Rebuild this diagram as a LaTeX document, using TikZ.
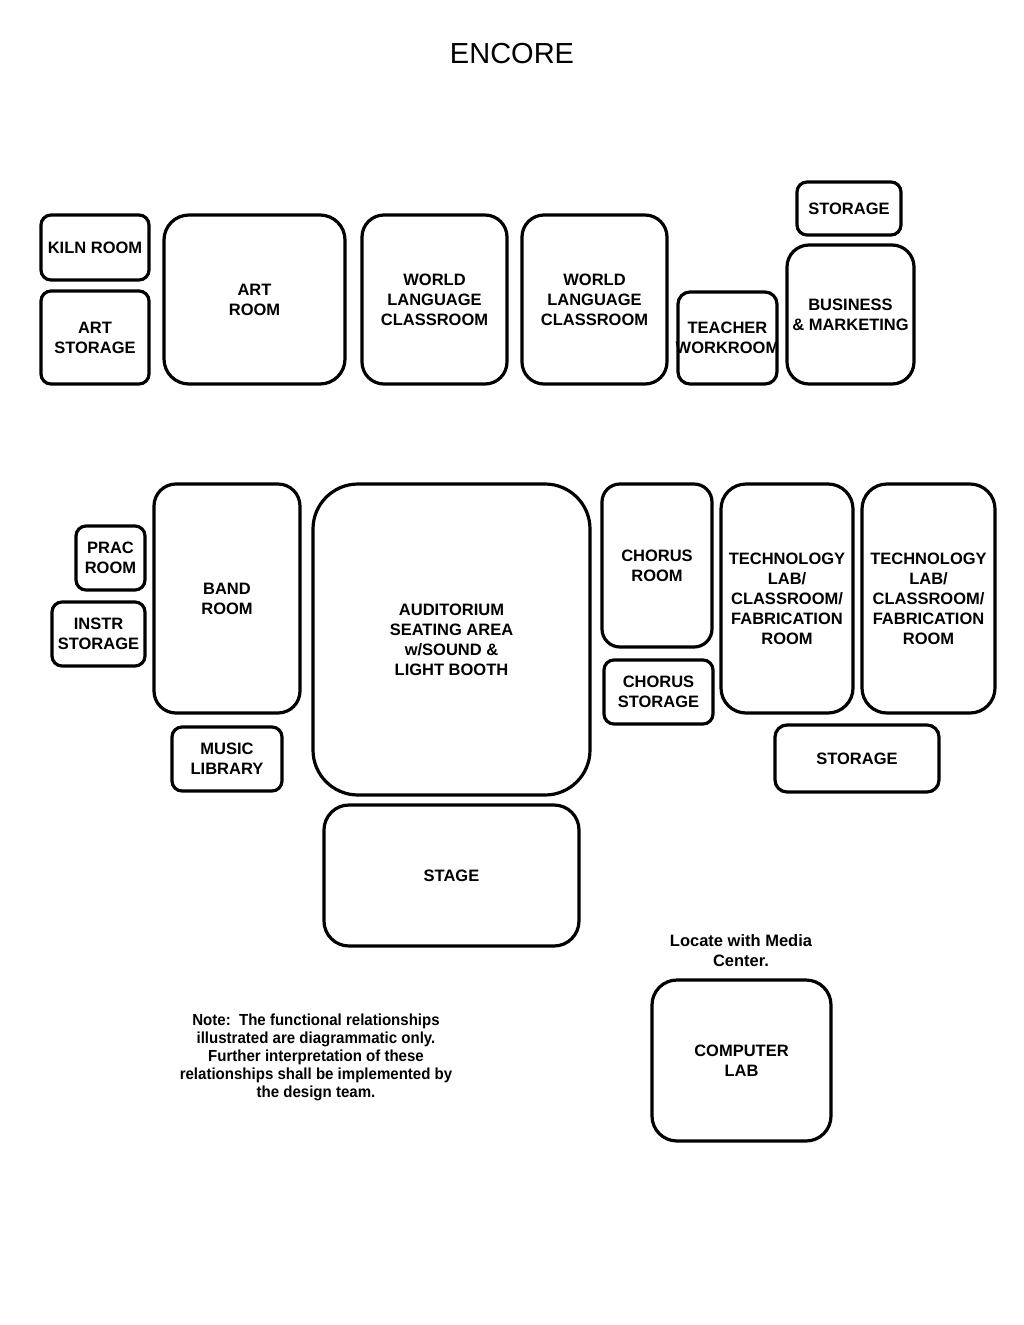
\documentclass[tikz,border=0pt]{standalone}
\usepackage{fontspec}
\setmainfont{Liberation Sans}
\newfontfamily\narrowfont[FakeStretch=0.94]{Liberation Sans}
\usetikzlibrary{calc}
\tikzset{
  room/.style={draw=black, line width=3.2pt, rounded corners=#1},
  room/.default=10pt,
  lbl/.style={align=center, inner sep=0pt, font=\bfseries\fontsize{16.5}{20}\selectfont},
  note/.style={align=center, inner sep=0pt, font=\narrowfont\bfseries\fontsize{16}{18}\selectfont},
}
\newcommand\roombox[7]{%
  \draw[room=#6] (#2,#3) rectangle (#4,#5);
  \node[lbl] (#1) at ($(#2,#3)!0.5!(#4,#5)$) {#7};
}
\begin{document}
\begin{tikzpicture}[x=1pt,y=-1pt]
\useasboundingbox (0,0) rectangle (1024,1325);
\node[inner sep=0pt, font=\fontsize{29}{34}\selectfont] (title) at (512,54) {ENCORE};
% top row
\roombox{kiln}{41}{215}{149}{280}{10pt}{KILN ROOM}
\roombox{artstor}{41}{291}{149}{384}{10pt}{ART\\STORAGE}
\roombox{art}{164}{215}{345}{384}{25pt}{ART\\ROOM}
\roombox{wl1}{362}{215}{507}{384}{22pt}{WORLD\\LANGUAGE\\CLASSROOM}
\roombox{wl2}{522}{215}{667}{384}{22pt}{WORLD\\LANGUAGE\\CLASSROOM}
\roombox{teacher}{678}{292}{777}{384}{12pt}{TEACHER\\WORKROOM}
\roombox{stor1}{797}{182}{901}{235}{10pt}{STORAGE}
\roombox{bus}{787}{245}{914}{384}{22pt}{BUSINESS\\\& MARKETING}
% middle
\roombox{prac}{76}{526}{145}{590}{10pt}{PRAC\\ROOM}
\roombox{instr}{52}{602}{145}{666}{10pt}{INSTR\\STORAGE}
\roombox{band}{154}{484}{300}{713}{22pt}{BAND\\ROOM}
\roombox{music}{172}{727}{282}{791}{10pt}{MUSIC\\LIBRARY}
\roombox{aud}{313}{484}{590}{795}{45pt}{AUDITORIUM\\SEATING AREA\\w/SOUND \&\\LIGHT BOOTH}
\roombox{stage}{324}{805}{579}{946}{25pt}{STAGE}
\roombox{chorus}{602}{484}{712}{647}{18pt}{CHORUS\\ROOM}
\roombox{chstor}{604}{660}{713}{724}{10pt}{CHORUS\\STORAGE}
\roombox{tech1}{721}{484}{853}{713}{25pt}{TECHNOLOGY\\LAB/\\CLASSROOM/\\FABRICATION\\ROOM}
\roombox{tech2}{862}{484}{995}{713}{25pt}{TECHNOLOGY\\LAB/\\CLASSROOM/\\FABRICATION\\ROOM}
\roombox{stor2}{775}{725}{939}{792}{12pt}{STORAGE}
% bottom
\roombox{comp}{652}{980}{831}{1141}{25pt}{COMPUTER\\LAB}
\node[note, font=\bfseries\fontsize{16.5}{20}\selectfont] (locate) at (741,951) {Locate with Media\\Center.};
\node[note] (notetext) at (316,1057) {Note:\ \ The functional relationships\\illustrated are diagrammatic only.\\Further interpretation of these\\relationships shall be implemented by\\the design team.};
\end{tikzpicture}
\end{document}
